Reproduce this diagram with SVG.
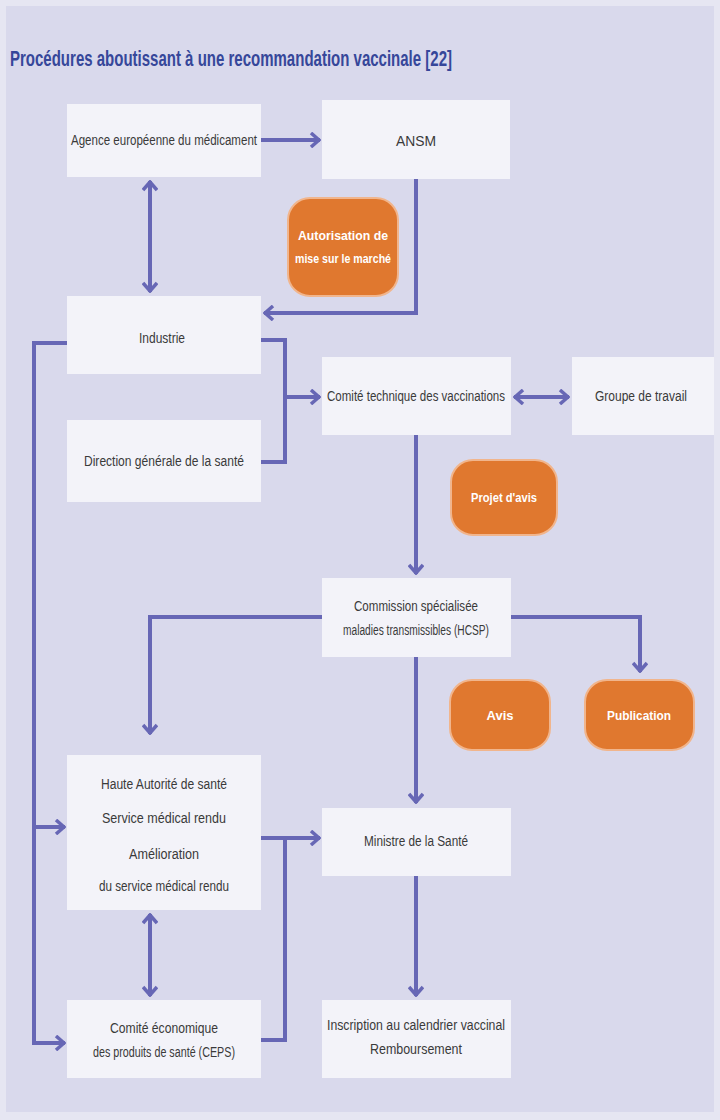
<svg xmlns="http://www.w3.org/2000/svg" width="720" height="1120" viewBox="0 0 720 1120">
<defs>
<style>
.box{fill:#f3f3f9;}
.pill{fill:#e0782f;stroke:#f1b58c;stroke-width:2;}
.t{font-family:"Liberation Sans",Arial,sans-serif;font-size:14px;fill:#3a3a3a;text-anchor:middle;}
.w{font-family:"Liberation Sans",Arial,sans-serif;font-size:13px;font-weight:bold;fill:#ffffff;text-anchor:middle;}
.ln{fill:none;stroke:#6767b5;stroke-width:4;}
</style>
<marker id="ah" viewBox="0 0 12 16" refX="11" refY="8" markerWidth="12" markerHeight="16" markerUnits="userSpaceOnUse" orient="auto-start-reverse">
<path d="M2,1 L10,8 L2,15" fill="none" stroke="#6767b5" stroke-width="3.5"/>
</marker>
</defs>
<rect x="0" y="0" width="720" height="1120" fill="#e6e6f2"/>
<rect x="6" y="6" width="708" height="1106" fill="#d9d9ec"/>
<text x="10" y="66" font-family="Liberation Sans,Arial,sans-serif" font-size="22" font-weight="bold" fill="#36479a" textLength="442" lengthAdjust="spacingAndGlyphs">Procédures aboutissant à une recommandation vaccinale [22]</text>

<g id="connectors">
<path class="ln" d="M261,140 H320" marker-end="url(#ah)"/>
<path class="ln" d="M150,181 V292" marker-start="url(#ah)" marker-end="url(#ah)"/>
<path class="ln" d="M416,179 V313 H264" marker-end="url(#ah)"/>
<path class="ln" d="M261,340 H285 V462 H261"/>
<path class="ln" d="M285,397 H320" marker-end="url(#ah)"/>
<path class="ln" d="M514,397 H569" marker-start="url(#ah)" marker-end="url(#ah)"/>
<path class="ln" d="M416,435 V574" marker-end="url(#ah)"/>
<path class="ln" d="M322,617 H150 V734" marker-end="url(#ah)"/>
<path class="ln" d="M511,617 H640 V672" marker-end="url(#ah)"/>
<path class="ln" d="M416,657 V803" marker-end="url(#ah)"/>
<path class="ln" d="M67,343 H34 V1043 H65" marker-end="url(#ah)"/>
<path class="ln" d="M34,827 H65" marker-end="url(#ah)"/>
<path class="ln" d="M150,914 V996" marker-start="url(#ah)" marker-end="url(#ah)"/>
<path class="ln" d="M261,838 H320" marker-end="url(#ah)"/>
<path class="ln" d="M261,1040 H285 V838"/>
<path class="ln" d="M416,876 V996" marker-end="url(#ah)"/>
</g>

<g id="n-agence"><rect class="box" x="67" y="104" width="194" height="73"/><text class="t" x="164" y="145" textLength="186" lengthAdjust="spacingAndGlyphs">Agence européenne du médicament</text></g>
<g id="n-ansm"><rect class="box" x="322" y="100" width="188" height="79"/><text class="t" x="416" y="146" font-size="16" textLength="40" lengthAdjust="spacingAndGlyphs">ANSM</text></g>
<g id="n-amm"><rect class="pill" x="288" y="198" width="110" height="98" rx="22"/><text class="w" x="343" y="240" textLength="90" lengthAdjust="spacingAndGlyphs">Autorisation de</text><text class="w" x="343" y="263" textLength="96" lengthAdjust="spacingAndGlyphs">mise sur le marché</text></g>
<g id="n-industrie"><rect class="box" x="67" y="296" width="194" height="78"/><text class="t" x="162" y="343" textLength="46" lengthAdjust="spacingAndGlyphs">Industrie</text></g>
<g id="n-dgs"><rect class="box" x="67" y="420" width="194" height="82"/><text class="t" x="164" y="466" textLength="160" lengthAdjust="spacingAndGlyphs">Direction générale de la santé</text></g>
<g id="n-ctv"><rect class="box" x="322" y="357" width="189" height="78"/><text class="t" x="416" y="401" textLength="178" lengthAdjust="spacingAndGlyphs">Comité technique des vaccinations</text></g>
<g id="n-groupe"><rect class="box" x="572" y="357" width="142" height="78"/><text class="t" x="641" y="401" textLength="92" lengthAdjust="spacingAndGlyphs">Groupe de travail</text></g>
<g id="n-projet"><rect class="pill" x="451" y="460" width="106" height="75" rx="22"/><text class="w" x="504" y="502" textLength="66" lengthAdjust="spacingAndGlyphs">Projet d'avis</text></g>
<g id="n-csmt"><rect class="box" x="322" y="578" width="189" height="79"/><text class="t" x="416" y="611" textLength="124" lengthAdjust="spacingAndGlyphs">Commission spécialisée</text><text class="t" x="416" y="635" textLength="146" lengthAdjust="spacingAndGlyphs">maladies transmissibles (HCSP)</text></g>
<g id="n-avis"><rect class="pill" x="450" y="680" width="100" height="70" rx="22"/><text class="w" x="500" y="720">Avis</text></g>
<g id="n-publication"><rect class="pill" x="585" y="680" width="109" height="70" rx="22"/><text class="w" x="639" y="720" textLength="64" lengthAdjust="spacingAndGlyphs">Publication</text></g>
<g id="n-has"><rect class="box" x="67" y="755" width="194" height="155"/><text class="t" x="164" y="789" textLength="126" lengthAdjust="spacingAndGlyphs">Haute Autorité de santé</text><text class="t" x="164" y="823" textLength="124" lengthAdjust="spacingAndGlyphs">Service médical rendu</text><text class="t" x="164" y="859" textLength="70" lengthAdjust="spacingAndGlyphs">Amélioration</text><text class="t" x="164" y="891" textLength="130" lengthAdjust="spacingAndGlyphs">du service médical rendu</text></g>
<g id="n-ministre"><rect class="box" x="322" y="808" width="189" height="68"/><text class="t" x="416" y="846" textLength="104" lengthAdjust="spacingAndGlyphs">Ministre de la Santé</text></g>
<g id="n-ceps"><rect class="box" x="67" y="1000" width="194" height="78"/><text class="t" x="164" y="1033" textLength="108" lengthAdjust="spacingAndGlyphs">Comité économique</text><text class="t" x="164" y="1057" textLength="142" lengthAdjust="spacingAndGlyphs">des produits de santé (CEPS)</text></g>
<g id="n-inscription"><rect class="box" x="322" y="1000" width="189" height="78"/><text class="t" x="416" y="1030" textLength="178" lengthAdjust="spacingAndGlyphs">Inscription au calendrier vaccinal</text><text class="t" x="416" y="1054" textLength="92" lengthAdjust="spacingAndGlyphs">Remboursement</text></g>
</svg>
